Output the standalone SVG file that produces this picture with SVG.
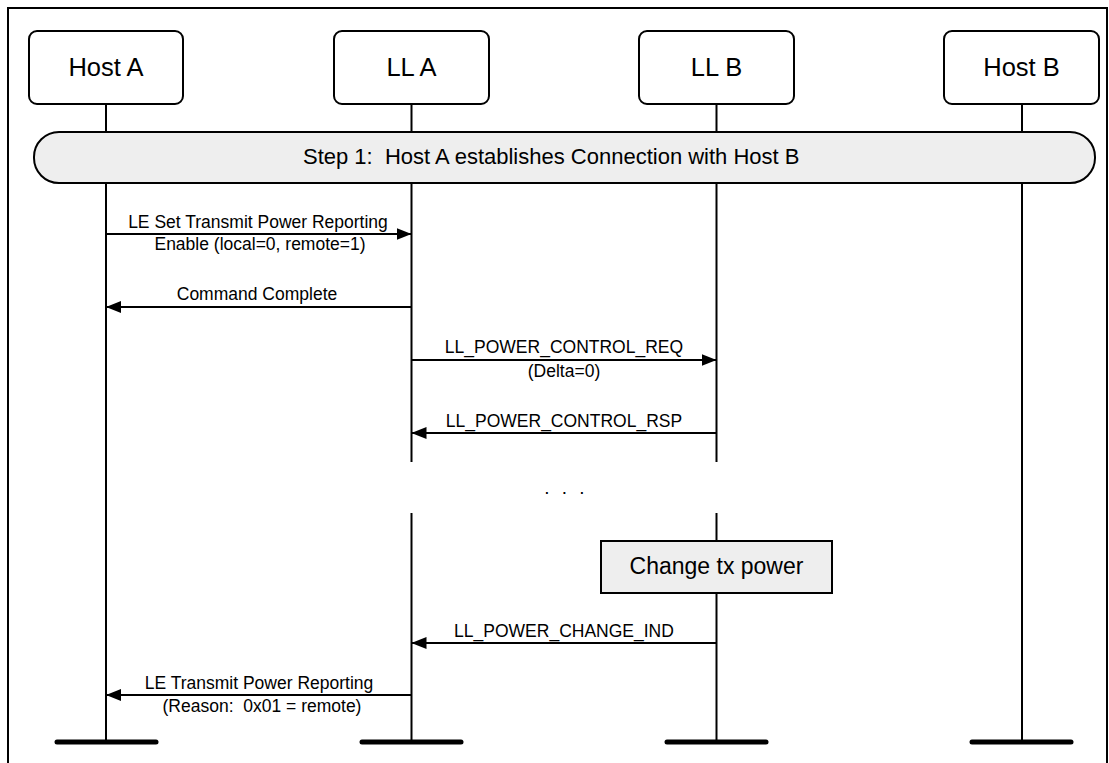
<svg xmlns="http://www.w3.org/2000/svg" width="1109" height="763" viewBox="0 0 1109 763">
<style>
text{font-family:"Liberation Sans",Arial,sans-serif;fill:#000}
.head{fill:#fff;stroke:#000;stroke-width:2}
.ll{stroke:#000;stroke-width:2;fill:none}
.bar{stroke:#000;stroke-width:5;stroke-linecap:round}
.msg{stroke:#000;stroke-width:2;fill:none}
.ht{font-size:25.5px;text-anchor:middle}
.lt{font-size:17.5px;text-anchor:middle}
</style>
<defs>
<marker id="ah" markerWidth="15" markerHeight="12" refX="15" refY="6" orient="auto" markerUnits="userSpaceOnUse">
<path d="M0,0 L15,6 L0,12 Z" fill="#000"/>
</marker>
</defs>
<rect width="1109" height="763" fill="#fff"/>
<path d="M8,763 V8 H1107 V763" fill="none" stroke="#000" stroke-width="2"/>
<g id="lifelines">
<line class="ll" x1="106" y1="104" x2="106" y2="742"/>
<line class="ll" x1="411.5" y1="104" x2="411.5" y2="462"/>
<line class="ll" x1="411.5" y1="513" x2="411.5" y2="742"/>
<line class="ll" x1="716.5" y1="104" x2="716.5" y2="462"/>
<line class="ll" x1="716.5" y1="513" x2="716.5" y2="742"/>
<line class="ll" x1="1022" y1="104" x2="1022" y2="742"/>
<line class="bar" x1="57" y1="742" x2="156" y2="742"/>
<line class="bar" x1="362" y1="742" x2="461" y2="742"/>
<line class="bar" x1="667" y1="742" x2="766" y2="742"/>
<line class="bar" x1="972" y1="742" x2="1071" y2="742"/>
</g>
<g id="host-a"><rect class="head" x="29" y="31" width="154" height="73" rx="8"/><text class="ht" x="106" y="76">Host A</text></g>
<g id="ll-a"><rect class="head" x="334" y="31" width="155" height="73" rx="8"/><text class="ht" x="411.5" y="76">LL A</text></g>
<g id="ll-b"><rect class="head" x="639" y="31" width="155" height="73" rx="8"/><text class="ht" x="716.5" y="76">LL B</text></g>
<g id="host-b"><rect class="head" x="944" y="31" width="155" height="73" rx="8"/><text class="ht" x="1021.5" y="76">Host B</text></g>
<g id="step1"><rect x="34" y="132" width="1061" height="51" rx="25" fill="#eeeeee" stroke="#000" stroke-width="2"/><text x="303" y="164" font-size="22px" xml:space="preserve">Step 1:  Host A establishes Connection with Host B</text></g>
<g id="change-tx"><rect x="601" y="541" width="231" height="52" fill="#eeeeee" stroke="#000" stroke-width="2"/><text x="716.5" y="574" font-size="23px" text-anchor="middle">Change tx power</text></g>
<g id="ellipsis"><text x="547 564.5 582" y="494" font-size="19px" text-anchor="middle">...</text></g>
<g id="connectors">
<line class="msg" x1="106" y1="234" x2="411.5" y2="234" marker-end="url(#ah)"/>
<text class="lt" x="258" y="228">LE Set Transmit Power Reporting</text>
<text class="lt" x="260" y="250">Enable (local=0, remote=1)</text>
<line class="msg" x1="411.5" y1="307" x2="106" y2="307" marker-end="url(#ah)"/>
<text class="lt" x="257" y="300">Command Complete</text>
<line class="msg" x1="411.5" y1="360" x2="716.5" y2="360" marker-end="url(#ah)"/>
<text class="lt" x="564" y="353">LL_POWER_CONTROL_REQ</text>
<text class="lt" x="564" y="377">(Delta=0)</text>
<line class="msg" x1="716.5" y1="433" x2="411.5" y2="433" marker-end="url(#ah)"/>
<text class="lt" x="564" y="427">LL_POWER_CONTROL_RSP</text>
<line class="msg" x1="716.5" y1="643" x2="411.5" y2="643" marker-end="url(#ah)"/>
<text class="lt" x="564" y="637">LL_POWER_CHANGE_IND</text>
<line class="msg" x1="411.5" y1="695" x2="106" y2="695" marker-end="url(#ah)"/>
<text class="lt" x="259" y="689">LE Transmit Power Reporting</text>
<text class="lt" x="262" y="712" xml:space="preserve">(Reason:  0x01 = remote)</text>
</g>
</svg>
